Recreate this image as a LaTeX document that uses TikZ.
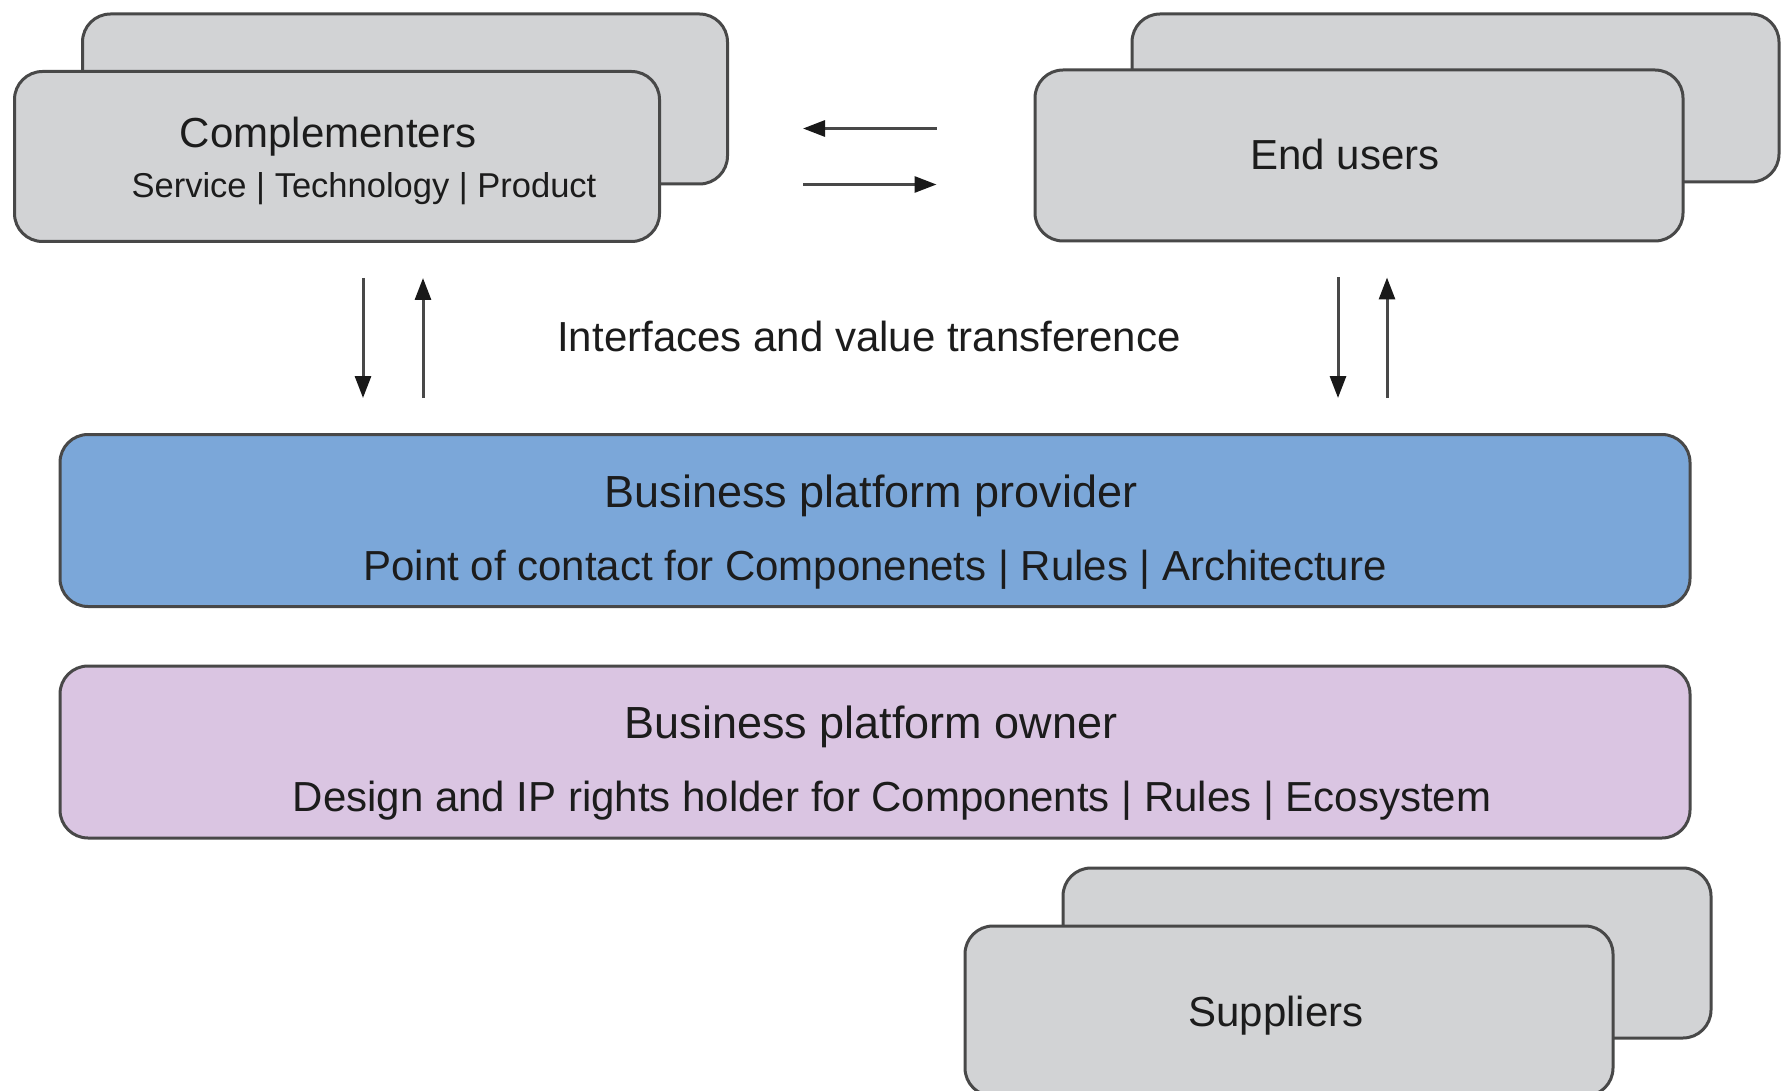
\documentclass[tikz,border=0pt]{standalone}
\usepackage{fontspec}
\setmainfont{Liberation Sans}
\usetikzlibrary{arrows.meta,calc}
\definecolor{boxgray}{RGB}{210,211,213}
\definecolor{edgegray}{RGB}{72,72,72}
\definecolor{provblue}{RGB}{123,167,217}
\definecolor{ownlilac}{RGB}{218,197,226}
\definecolor{txtgray}{RGB}{28,28,28}
\begin{document}
\begin{tikzpicture}[x=1pt,y=-1pt,>={Triangle[length=22pt,width=16pt,color=black!90]},
    box/.style={draw=edgegray,line width=3pt,rounded corners=28pt,fill=boxgray,
        minimum width=645pt,minimum height=170pt,inner sep=0pt},
    wide/.style={box,minimum width=1630pt,minimum height=172pt},
    arr/.style={->,draw=edgegray,line width=3pt},
    title/.style={font=\fontsize{42}{48}\selectfont,text=txtgray},
    bigtitle/.style={font=\fontsize{45}{52}\selectfont,text=txtgray},
    sub/.style={font=\fontsize{42}{48}\selectfont,text=txtgray},
    smallsub/.style={font=\fontsize{34.5}{40}\selectfont,text=txtgray}]
    \useasboundingbox (0,0) rectangle (1781,1091);
    % top row
    \node[box] (compback) at (405,99) {};
    \node[box] (comp) at (337,156.5) {};
    \node[title] (comptitle) at (328,137) {Complementers};
    \node[smallsub] (compsub) at (364,189) {Service | Technology | Product};
    \node[box,minimum width=647pt,minimum height=168pt] (euback) at (1455.5,98) {};
    \node[box,minimum width=648pt,minimum height=171pt] (eu) at (1359,155.5) {};
    \node[title] (eutitle) at (1345,154) {End users};
    \draw[arr] ($(eu.west |- comp.center)+(-97pt,28pt)$) -- ($(comp.east)+(142pt,28pt)$);
    \draw[arr] ($(comp.east)+(142pt,-28pt)$) -- ($(eu.west |- comp.center)+(-97pt,-28pt)$);
    % platform
    \node[wide,fill=provblue] (prov) at (875,520.5) {};
    \node[bigtitle] (provtitle) at (871,496) {Business platform provider};
    \node[sub] (provsub) at (875,570) {Point of contact for Componenets | Rules | Architecture};
    \node[wide,fill=ownlilac] (own) at (875,752) {};
    \node[bigtitle] (owntitle) at (871,727) {Business platform owner};
    \node[sub] (ownsub) at (892,801) {Design and IP rights holder for Components | Rules | Ecosystem};
    \draw[arr] ($(comp.south)+(26pt,-35pt)$) -- ($(comp.south |- prov.north)+(26pt,35pt)$);
    \draw[arr] ($(comp.south |- prov.north)+(86pt,35pt)$) -- ($(comp.south)+(86pt,-35pt)$);
    \draw[arr] ($(eu.south)+(-21pt,-35pt)$) -- ($(eu.south |- prov.north)+(-21pt,35pt)$);
    \draw[arr] ($(eu.south |- prov.north)+(28pt,35pt)$) -- ($(eu.south)+(28pt,-35pt)$);
    \node[title] (iface) at (869,336) {Interfaces and value transference};
    % suppliers
    \node[box,minimum width=648pt] (supback) at (1387,953) {};
    \node[box,minimum width=648pt] (sup) at (1289,1011) {};
    \node[title] (suptitle) at (1276,1016) {Suppliers};
\end{tikzpicture}
\end{document}
